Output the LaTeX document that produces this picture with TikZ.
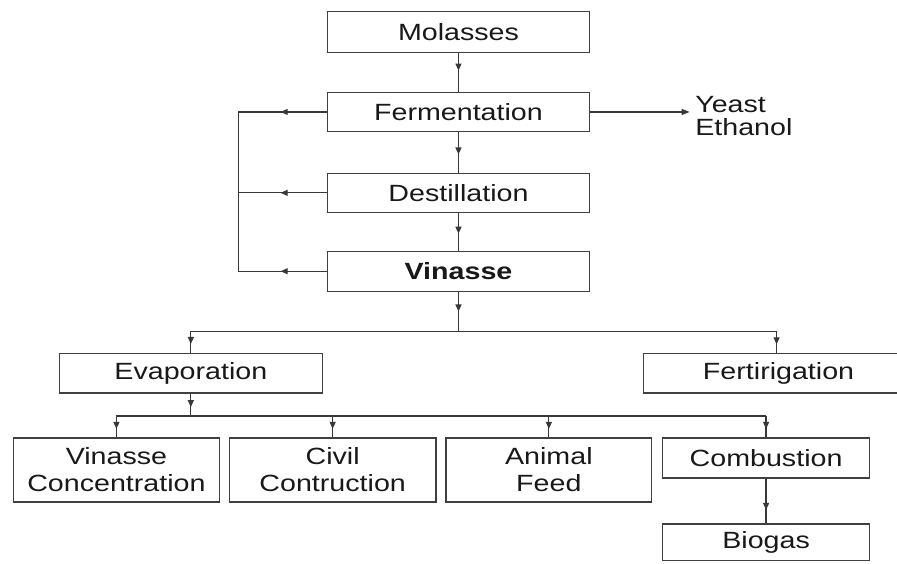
\documentclass[tikz,border=0pt]{standalone}
\usepackage{fontspec}
\setmainfont{Liberation Sans}[FakeStretch=1.22]
\usetikzlibrary{arrows.meta,decorations.markings}
\begin{document}
\begin{tikzpicture}[x=1pt,y=-1pt,
  line width=1.2pt,
  every path/.style={draw=black!78},
  box/.style={draw=black!75,line width=1.2pt,rectangle,inner sep=0pt,align=center,
    text=black!90,font=\fontsize{23.5}{27}\selectfont},
  midarr/.style={postaction={decorate,decoration={markings,
    mark=at position #1 with {\arrow{Triangle[length=7pt,width=6pt]}}}}},
  midarr/.default=0.55,
  endarr/.style={-{Triangle[length=8pt,width=6pt]}}]
\useasboundingbox (0,0) rectangle (897,563);
\fill[white] (0,0) rectangle (897,563);
% boxes
\node[box,minimum width=263pt,minimum height=41pt] (mol) at (458.5,31.5) {Molasses};
\node[box,minimum width=263pt,minimum height=39pt] (fer) at (458.5,111.5) {Fermentation};
\node[box,minimum width=263pt,minimum height=39pt] (des) at (458.5,192.5) {Destillation};
\node[box,minimum width=263pt,minimum height=40pt] (vin) at (458.5,271) {\textbf{Vinasse}};
\node[box,minimum width=263pt,minimum height=40pt] (evap) at (190.5,373) {Evaporation};
\node[box,minimum width=270pt,minimum height=40pt] (fert) at (779,373) {Fertirigation};
\node[box,minimum width=206pt,minimum height=64pt] (vc) at (116,470) {Vinasse\\Concentration};
\node[box,minimum width=207pt,minimum height=64pt] (civ) at (332.5,470) {Civil\\Contruction};
\node[box,minimum width=206pt,minimum height=64pt] (ani) at (549,470) {Animal\\Feed};
\node[box,minimum width=207pt,minimum height=40pt] (com) at (766.5,458) {Combustion};
\node[box,minimum width=207pt,minimum height=37pt] (bio) at (766.5,542.5) {Biogas};
\node[anchor=west,inner sep=0pt,align=left,text=black!90,font=\fontsize{23.5}{23}\selectfont] (yeast) at (695,116) {Yeast\\Ethanol};
% coordinates
\coordinate (ye) at (690,111.5);
\coordinate (lf) at (238,111.5);
\coordinate (ld) at (238,192.5);
\coordinate (lv) at (238,271);
\coordinate (bv) at (458.5,331);
\coordinate (be) at (190.5,331);
\coordinate (bf) at (777,331);
\coordinate (fe) at (777,353);
\coordinate (bs) at (190.5,416);
\coordinate (b1) at (116,416);
\coordinate (b2) at (332.5,416);
\coordinate (b3) at (549,416);
\coordinate (b4) at (766.5,416);
% connectors
\draw[midarr=0.45] (mol.south) -- (fer.north);
\draw[midarr] (fer.south) -- (des.north);
\draw[midarr] (des.south) -- (vin.north);
\draw[endarr] (fer.east) -- (ye);
\draw[midarr=0.52] (fer.west) -- (lf);
\draw[midarr=0.52] (des.west) -- (ld);
\draw[midarr=0.52] (vin.west) -- (lv);
\draw (lf) -- (lv);
\draw[midarr=0.5] (vin.south) -- (bv);
\draw (be) -- (bf);
\draw[midarr=0.6] (be) -- (evap.north);
\draw[midarr=0.6] (bf) -- (fe);
\draw[midarr=0.6] (evap.south) -- (bs);
\draw (b1) -- (b4);
\draw[midarr=0.6] (b1) -- (vc.north);
\draw[midarr=0.6] (b2) -- (civ.north);
\draw[midarr=0.6] (b3) -- (ani.north);
\draw[midarr=0.6] (b4) -- (com.north);
\draw[midarr=0.7] (com.south) -- (bio.north);
\end{tikzpicture}
\end{document}
